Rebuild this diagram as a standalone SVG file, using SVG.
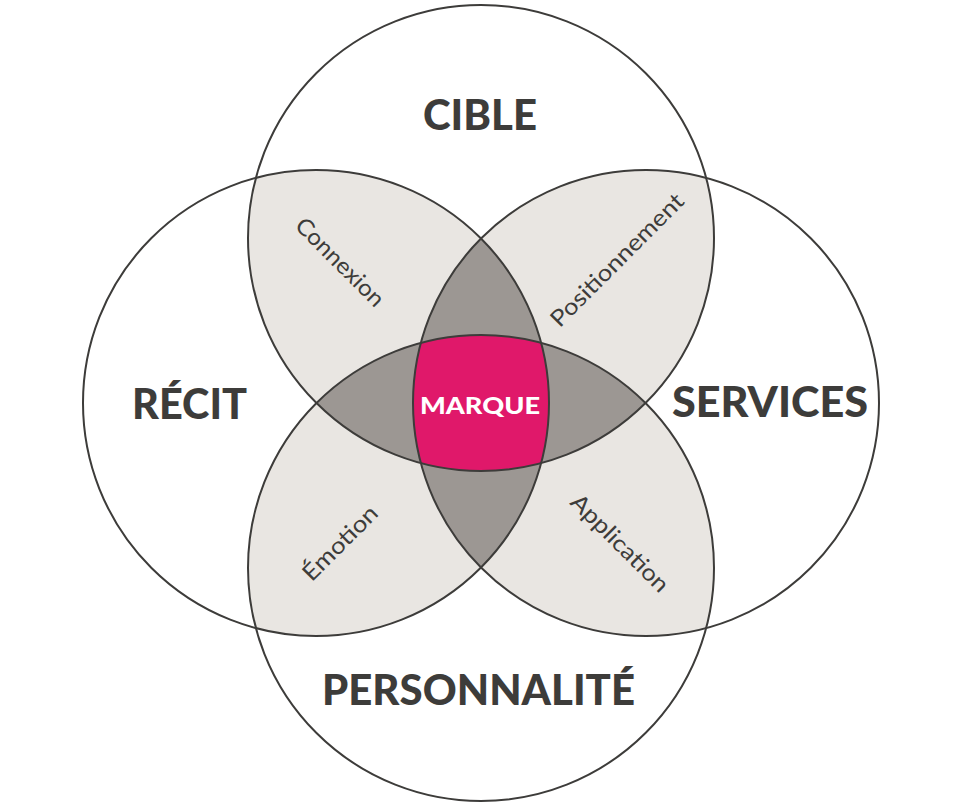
<svg xmlns="http://www.w3.org/2000/svg" width="960" height="805" viewBox="0 0 960 805">
<style>
.light{fill:#e9e6e2;stroke:none}
.dark{fill:#9c9793;stroke:none}
.pink{fill:#e0186a;stroke:none}
.ring{fill:none;stroke:#3d3c3a;stroke-width:2}
.big{font-family:Lato,"Liberation Sans",sans-serif;font-weight:900;font-size:42px;fill:#3d3c3a;text-anchor:middle}
.mid{font-family:Lato,"Liberation Sans",sans-serif;font-weight:900;font-size:22.5px;fill:#ffffff;text-anchor:middle}
.small{font-family:Lato,"Liberation Sans",sans-serif;font-weight:400;font-size:23px;fill:#3d3c3a;text-anchor:middle}
</style>
<rect width="960" height="805" fill="#ffffff"/>
<g id="fills">
<path class="light" d="M255.9,177.9 A233,233 0 0 1 541.1,463.1 A233,233 0 0 1 255.9,177.9 Z"/>
<path class="light" d="M420.9,463.1 A233,233 0 0 1 706.1,177.9 A233,233 0 0 1 420.9,463.1 Z"/>
<path class="light" d="M541.1,342.9 A233,233 0 0 1 255.9,628.1 A233,233 0 0 1 541.1,342.9 Z"/>
<path class="light" d="M420.9,342.9 A233,233 0 0 1 706.1,628.1 A233,233 0 0 1 420.9,342.9 Z"/>
<path class="dark" d="M481,238.5 A233,233 0 0 1 481,567.5 A233,233 0 0 1 481,238.5 Z"/>
<path class="dark" d="M316.5,403 A233,233 0 0 1 645.5,403 A233,233 0 0 1 316.5,403 Z"/>
</g>
<g id="marque">
<path class="pink" d="M420.9,342.9 A233,233 0 0 1 541.1,342.9 A233,233 0 0 1 541.1,463.1 A233,233 0 0 1 420.9,463.1 A233,233 0 0 1 420.9,342.9 Z"/>
<text class="mid" x="480" y="414" textLength="120" lengthAdjust="spacingAndGlyphs">MARQUE</text>
</g>
<g id="cible">
<circle class="ring" cx="481" cy="238" r="233"/>
<text class="big" x="480" y="130" textLength="114" lengthAdjust="spacingAndGlyphs">CIBLE</text>
</g>
<g id="recit">
<circle class="ring" cx="316" cy="403" r="233"/>
<text class="big" x="189.5" y="419" textLength="115" lengthAdjust="spacingAndGlyphs">RÉCIT</text>
</g>
<g id="services">
<circle class="ring" cx="646" cy="403" r="233"/>
<text class="big" x="770" y="417" textLength="196" lengthAdjust="spacingAndGlyphs">SERVICES</text>
</g>
<g id="personnalite">
<circle class="ring" cx="481" cy="568" r="233"/>
<text class="big" x="478.5" y="705" textLength="313" lengthAdjust="spacingAndGlyphs">PERSONNALITÉ</text>
</g>
<g id="connexion">
<text class="small" transform="translate(340,262) rotate(45)" x="0" y="8" textLength="115" lengthAdjust="spacingAndGlyphs">Connexion</text>
</g>
<g id="positionnement">
<text class="small" transform="translate(617,260) rotate(-45)" x="0" y="8" textLength="178" lengthAdjust="spacingAndGlyphs">Positionnement</text>
</g>
<g id="emotion">
<text class="small" transform="translate(340,543) rotate(-45)" x="0" y="8" textLength="96" lengthAdjust="spacingAndGlyphs">Émotion</text>
</g>
<g id="application">
<text class="small" transform="translate(620,543) rotate(45)" x="0" y="8" textLength="128" lengthAdjust="spacingAndGlyphs">Application</text>
</g>
</svg>
